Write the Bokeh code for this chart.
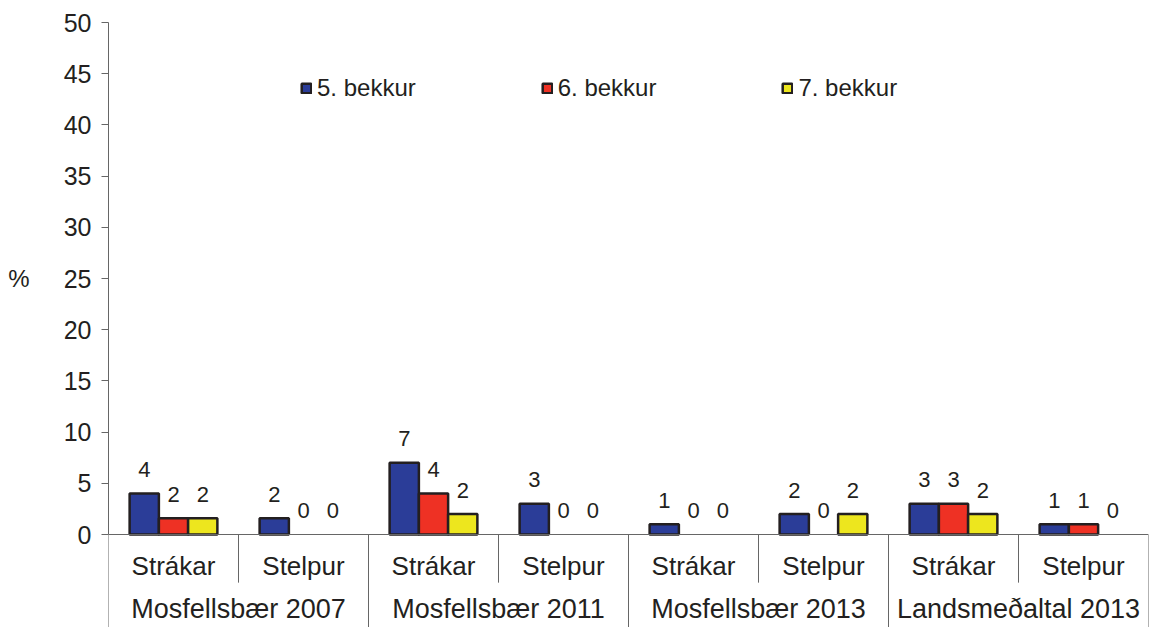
from bokeh.plotting import figure
from bokeh.models import (FactorRange, Range1d, ColumnDataSource, CategoricalAxis, LinearAxis,
                          FixedTicker, Legend, LegendItem, CDSView, BooleanFilter)
from bokeh.transform import dodge
from bokeh.core.properties import value
from bokeh.embed import file_html
from bokeh.resources import INLINE

groups = ["Mosfellsbær 2007", "Mosfellsbær 2011", "Mosfellsbær 2013", "Landsmeðaltal 2013"]
genders = ["Strákar", "Stelpur"]
series_names = ["5. bekkur", "6. bekkur", "7. bekkur"]
bekkur5 = [4.0, 1.6, 7.0, 3.0, 1.0, 2.0, 3.0, 1.0]
bekkur6 = [1.6, 0.0, 4.0, 0.0, 0.0, 0.0, 3.0, 1.0]
bekkur7 = [1.6, 0.0, 2.0, 0.0, 0.0, 2.0, 2.0, 0.0]
labels5 = ["4", "2", "7", "3", "1", "2", "3", "1"]
labels6 = ["2", "0", "4", "0", "0", "0", "3", "1"]
labels7 = ["2", "0", "2", "0", "0", "2", "2", "0"]
y_ticks = [0, 5, 10, 15, 20, 25, 30, 35, 40, 45, 50]
y_title = "%"
y_title_at = 25

FONT = "Liberation Sans"
TXT = "#231F20"
GRAY = "#666666"
colors = ["#2B3D98", "#EE3124", "#EDE61E"]

factors = [(g, s) for g in groups for s in genders]

p = figure(x_range=FactorRange(*factors, group_padding=0, factor_padding=0, range_padding=0),
           y_range=Range1d(-9.08, 50),
           width=1151, height=627, output_backend="svg", toolbar_location=None,
           x_axis_location=None,
           min_border_left=108, min_border_right=3, min_border_top=22, min_border_bottom=0)
p.outline_line_color = None
p.xgrid.visible = False
p.ygrid.visible = False

# y axis
ya = p.yaxis[0]
ya.ticker = FixedTicker(ticks=y_ticks)
ya.bounds = (0, 50)
ya.major_label_text_font = FONT
ya.major_label_text_font_size = "25px"
ya.major_label_text_color = TXT
ya.major_label_standoff = 10
ya.major_tick_out = 7
ya.major_tick_in = 0
ya.minor_tick_line_color = None
ya.axis_line_color = GRAY
ya.major_tick_line_color = GRAY

# "%" title placed at the middle of the value scale
ta = LinearAxis(ticker=FixedTicker(ticks=[y_title_at]),
                major_label_overrides={y_title_at: y_title})
ta.axis_line_color = None
ta.major_tick_line_color = None
ta.minor_tick_line_color = None
ta.major_tick_out = 0
ta.major_tick_in = 0
ta.major_label_standoff = 31
ta.major_label_text_font = FONT
ta.major_label_text_font_size = "24px"
ta.major_label_text_color = TXT
p.add_layout(ta, "left")

# x axis at y = 0
xa = CategoricalAxis(fixed_location=0)
xa.axis_line_color = GRAY
xa.major_tick_line_color = None
xa.minor_tick_line_color = None
xa.separator_line_color = None
xa.major_label_text_font = FONT
xa.major_label_text_font_size = "26px"
xa.major_label_text_color = TXT
xa.major_label_standoff = 10
xa.group_text_font = FONT
xa.group_text_font_size = "27px"
xa.group_text_color = TXT
xa.group_text_font_style = "normal"
p.add_layout(xa, "below")

# separators
p.segment(x0=dodge("x", -0.5, range=p.x_range), y0=0, x1=dodge("x", -0.5, range=p.x_range), y1=-10,
          source=ColumnDataSource(dict(x=[(g, genders[0]) for g in groups])),
          line_color=GRAY, line_width=1)
p.segment(x0=dodge("x", 0.5, range=p.x_range), y0=0, x1=dodge("x", 0.5, range=p.x_range), y1=-10,
          source=ColumnDataSource(dict(x=[(groups[-1], genders[-1])])),
          line_color=GRAY, line_width=1)
p.segment(x0=dodge("x", -0.5, range=p.x_range), y0=0, x1=dodge("x", -0.5, range=p.x_range), y1=-4.7,
          source=ColumnDataSource(dict(x=[(g, genders[1]) for g in groups])),
          line_color=GRAY, line_width=1)

items = []
offsets = [-0.225, 0.0, 0.225]
for name, vals, labs, col, off in zip(series_names, [bekkur5, bekkur6, bekkur7],
                                      [labels5, labels6, labels7], colors, offsets):
    src = ColumnDataSource(dict(x=factors, top=vals, lab=labs))
    view = CDSView(filter=BooleanFilter([v > 0 for v in vals]))
    r = p.vbar(x=dodge("x", off, range=p.x_range), top="top", bottom=0, width=0.225,
               source=src, view=view, fill_color=col, line_color="#231F20", line_width=2.5)
    p.text(x=dodge("x", off, range=p.x_range), y="top", text="lab", source=src,
           text_align="center", text_baseline="middle", y_offset=-24,
           text_font=value(FONT), text_font_size="22px", text_color=TXT)
    items.append(LegendItem(label=name, renderers=[r]))

legend = Legend(items=items, orientation="horizontal", location=(192, 525),
                padding=0, margin=0, spacing=125, label_standoff=5,
                glyph_width=12, glyph_height=12,
                label_text_font=FONT, label_text_font_size="24px", label_text_color=TXT,
                border_line_color=None, background_fill_alpha=0)
p.add_layout(legend)

open("out.html", "w").write(file_html(p, INLINE))
